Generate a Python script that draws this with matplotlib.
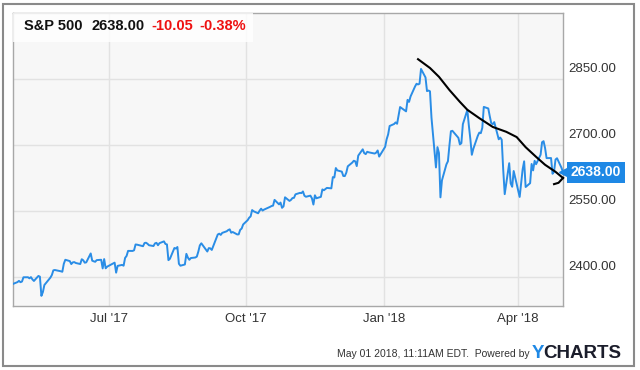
import matplotlib
matplotlib.use('Agg')
import matplotlib.pyplot as plt
from matplotlib.patches import Rectangle
from matplotlib.transforms import blended_transform_factory
import pandas as pd

plt.rcParams['font.family'] = ['Liberation Sans', 'DejaVu Sans']

# trading days per month and S&P 500 closes
trade_days = {
    '2017-04': [28],
    '2017-05': [1, 2, 3, 4, 5, 8, 9, 10, 11, 12, 15, 16, 17, 18, 19, 22, 23, 24, 25, 26, 30, 31],
    '2017-06': [1, 2, 5, 6, 7, 8, 9, 12, 13, 14, 15, 16, 19, 20, 21, 22, 23, 26, 27, 28, 29, 30],
    '2017-07': [3, 5, 6, 7, 10, 11, 12, 13, 14, 17, 18, 19, 20, 21, 24, 25, 26, 27, 28, 31],
    '2017-08': [1, 2, 3, 4, 7, 8, 9, 10, 11, 14, 15, 16, 17, 18, 21, 22, 23, 24, 25, 28, 29, 30, 31],
    '2017-09': [1, 5, 6, 7, 8, 11, 12, 13, 14, 15, 18, 19, 20, 21, 22, 25, 26, 27, 28, 29],
    '2017-10': [2, 3, 4, 5, 6, 9, 10, 11, 12, 13, 16, 17, 18, 19, 20, 23, 24, 25, 26, 27, 30, 31],
    '2017-11': [1, 2, 3, 6, 7, 8, 9, 10, 13, 14, 15, 16, 17, 20, 21, 22, 24, 27, 28, 29, 30],
    '2017-12': [1, 4, 5, 6, 7, 8, 11, 12, 13, 14, 15, 18, 19, 20, 21, 22, 26, 27, 28, 29],
    '2018-01': [2, 3, 4, 5, 8, 9, 10, 11, 12, 16, 17, 18, 19, 22, 23, 24, 25, 26, 29, 30, 31],
    '2018-02': [1, 2, 5, 6, 7, 8, 9, 12, 13, 14, 15, 16, 20, 21, 22, 23, 26, 27, 28],
    '2018-03': [1, 2, 5, 6, 7, 8, 9, 12, 13, 14, 15, 16, 19, 20, 21, 22, 23, 26, 27, 28, 29],
    '2018-04': [2, 3, 4, 5, 6, 9, 10, 11, 12, 13, 16, 17, 18, 19, 20, 23, 24, 25, 26, 27, 30],
    '2018-05': [1],
}
closes = [
    2384.20,
    2388.33, 2391.17, 2388.13, 2389.52, 2399.29, 2399.38, 2396.92, 2399.63, 2394.44, 2390.90, 2402.32,
    2400.67, 2357.03, 2365.72, 2381.73, 2394.02, 2398.42, 2404.39, 2415.07, 2415.82, 2412.91, 2411.80,
    2430.06, 2439.07, 2436.10, 2429.33, 2433.14, 2433.79, 2431.77, 2429.39, 2440.35, 2437.92, 2432.46,
    2433.15, 2453.46, 2437.03, 2435.61, 2434.50, 2438.30, 2439.07, 2419.38, 2440.69, 2419.70, 2423.41,
    2429.01, 2432.54, 2409.75, 2425.18, 2427.43, 2425.53, 2443.25, 2447.83, 2459.27, 2459.14, 2460.61,
    2473.83, 2473.45, 2472.54, 2469.91, 2477.13, 2477.83, 2475.42, 2472.10, 2470.30,
    2476.35, 2477.57, 2472.16, 2476.83, 2480.91, 2474.92, 2474.02, 2438.21, 2441.32, 2465.84, 2464.61,
    2468.11, 2430.01, 2425.55, 2428.37, 2452.51, 2444.04, 2438.97, 2443.05, 2444.24, 2446.30, 2457.59,
    2471.65,
    2476.55, 2457.85, 2465.54, 2465.10, 2461.43, 2488.11, 2496.48, 2498.37, 2495.62, 2500.23, 2503.87,
    2506.65, 2508.24, 2500.60, 2502.22, 2496.66, 2496.84, 2507.04, 2510.06, 2519.36,
    2529.12, 2534.58, 2537.74, 2552.07, 2549.33, 2544.73, 2550.64, 2555.24, 2550.93, 2553.17, 2557.64,
    2559.36, 2561.26, 2562.10, 2575.21, 2564.98, 2569.13, 2557.15, 2560.40, 2581.07, 2572.83, 2575.26,
    2579.36, 2579.85, 2587.84, 2591.13, 2590.64, 2594.38, 2584.62, 2582.30, 2584.84, 2578.87, 2564.62,
    2585.64, 2578.85, 2582.14, 2599.03, 2597.08, 2602.42, 2601.42, 2627.04, 2626.07, 2647.58,
    2642.22, 2639.44, 2629.57, 2629.27, 2636.98, 2651.50, 2659.99, 2664.11, 2662.85, 2652.01, 2675.81,
    2690.16, 2681.47, 2679.25, 2684.57, 2683.34, 2680.50, 2682.62, 2687.54, 2673.61,
    2695.81, 2713.06, 2723.99, 2743.15, 2747.71, 2751.29, 2748.23, 2767.56, 2786.24, 2776.42, 2802.56,
    2798.03, 2810.30, 2832.97, 2839.13, 2837.54, 2839.25, 2872.87, 2853.53, 2822.43, 2823.81,
    2821.98, 2762.13, 2648.94, 2695.14, 2681.66, 2581.00, 2619.55, 2656.00, 2662.94, 2698.63, 2731.20,
    2732.22, 2716.26, 2701.33, 2703.96, 2747.30, 2779.60, 2744.28, 2713.83,
    2677.67, 2691.25, 2720.94, 2728.12, 2726.80, 2738.97, 2786.57, 2783.02, 2765.31, 2749.48, 2747.33,
    2752.01, 2712.92, 2716.94, 2711.93, 2643.69, 2588.26, 2658.55, 2612.62, 2605.00, 2640.87,
    2581.88, 2614.45, 2644.69, 2662.84, 2604.47, 2613.16, 2656.87, 2642.19, 2663.99, 2656.30, 2677.84,
    2706.39, 2708.64, 2693.13, 2670.14, 2670.29, 2634.56, 2639.40, 2666.94, 2669.91, 2648.05,
    2638.00,
]

# hand-drawn trend stroke (date, value)
stroke_dates = ['2018-01-24', '2018-02-01', '2018-02-07', '2018-02-14', '2018-02-21', '2018-02-26',
                '2018-03-06', '2018-03-15', '2018-03-24', '2018-03-31', '2018-04-06', '2018-04-13',
                '2018-04-19', '2018-04-26', '2018-05-01']
stroke_vals = [2895, 2875, 2855, 2825, 2798, 2780, 2761, 2741, 2730, 2718, 2695, 2673, 2655, 2639, 2625]
hook_dates = ['2018-04-25', '2018-04-28', '2018-05-01']
hook_vals = [2611, 2614, 2625]

x_ticks = ['2017-07-01', '2017-10-01', '2018-01-01', '2018-04-01']
x_labels = ["Jul '17", "Oct '17", "Jan '18", "Apr '18"]
y_ticks = [2400, 2550, 2700, 2850]

dates = [pd.Timestamp(f'{m}-{d:02d}') for m, days in trade_days.items() for d in days]

W, H = 640, 370
fig = plt.figure(figsize=(W / 100, H / 100), dpi=100)
fig.patch.set_facecolor('white')

ax = fig.add_axes([13 / W, 1 - 306 / H, 550 / W, 293 / H])
ax.set_facecolor('#f7f7f7')
ax.plot(dates, closes, color='#2a8de6', lw=1.4, zorder=3)
ax.plot(pd.to_datetime(stroke_dates), stroke_vals, color='black', lw=1.5, zorder=4, clip_on=False)
ax.plot(pd.to_datetime(hook_dates), hook_vals, color='black', lw=1.5, zorder=4, clip_on=False)

ax.set_xlim(pd.Timestamp('2017-04-28'), pd.Timestamp('2018-05-01'))
ax.set_ylim(2334, 3000)
ax.set_xticks(pd.to_datetime(x_ticks))
ax.set_xticklabels(x_labels)
ax.set_yticks(y_ticks)
ax.set_yticklabels([])
ax.tick_params(axis='x', length=0, pad=5, labelsize=9.5, colors='#333333')
ax.tick_params(axis='y', length=0)
ax.grid(color='#e2e2e2', lw=1, zorder=0)
for s in ax.spines.values():
    s.set_color('#a8a8a8')
    s.set_linewidth(1)

trans = blended_transform_factory(ax.transAxes, ax.transData)
for v in y_ticks:
    ax.annotate(f'{v:.2f}', xy=(1, v), xycoords=trans, xytext=(3.8, 7.2), textcoords='offset points',
                ha='left', va='center', fontsize=9.5, color='#333333', annotation_clip=False)

last = closes[-1]
ax.plot([1.0], [last], marker='<', ms=6, color='#1e88e5', transform=trans, clip_on=False, zorder=5)
ax.annotate(f'{last:.2f}', xy=(1, last), xycoords=trans, xytext=(5.5, 0), textcoords='offset points',
            ha='left', va='center', fontsize=10, fontweight='bold', color='white',
            bbox=dict(boxstyle='square,pad=0.26', fc='#1e88e5', ec='none'), annotation_clip=False)

# header box
fig.add_artist(Rectangle((13 / W, 1 - 42 / H), 240 / W, 29 / H, transform=fig.transFigure,
                         fc='white', ec='none', alpha=0.8, zorder=2))
header = [('S&P 500', 24, '#111111'), ('2638.00', 91, '#111111'),
          ('-10.05', 151, '#ee1111'), ('-0.38%', 199, '#ee1111')]
for txt, px, col in header:
    fig.text(px / W, 1 - 26 / H, txt, fontsize=10.5, fontweight='bold', color=col, va='center', zorder=3)

# footer
fig.text(530 / W, 1 - 354 / H, 'May 01 2018, 11:11AM EDT.  Powered by', ha='right', va='center',
         fontsize=7.5, color='#333333')
fig.text(532 / W, 1 - 353 / H, 'Y', fontsize=13.5, fontweight='bold', color='#1e88e5', va='center')
fig.text(543 / W, 1 - 353 / H, 'CHARTS', fontsize=13.5, fontweight='bold', color='#1b1d2b', va='center')

# outer frame
fig.add_artist(Rectangle((3 / W, 1 - 366 / H), 631 / W, 362 / H, transform=fig.transFigure,
                         fill=False, ec='#8a8a8a', lw=1.5))

fig.savefig('out.png', dpi=100)
